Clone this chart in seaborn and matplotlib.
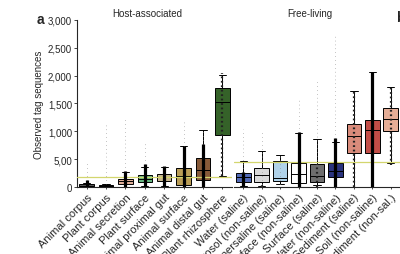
import pandas as pd
import matplotlib
matplotlib.use("Agg")
import matplotlib.pyplot as plt
import seaborn as sns

sns.set_style("ticks")
plt.rcParams["font.family"] = ["Liberation Sans", "DejaVu Sans"]

# =====================================
# Data
# =====================================

host_labels = ["Animal corpus", "Plant corpus", "Animal secretion", "Plant surface",
               "Animal proximal gut", "Animal surface", "Animal distal gut",
               "Plant rhizosphere"]
free_labels = ["Water (saline)", "Aerosol (non-saline)", "Hypersaline (saline)",
               "Surface (non-saline)", "Surface (saline)", "Water (non-saline)",
               "Sediment (saline)", "Soil (non-saline)", "Sediment (non-sal.)"]

# five-number summaries: lower whisker, q1, median, q3, upper whisker
host_wlo = [0, 0, 0, 20, 10, 0, 0, 200]
host_q1 = [10, 5, 55, 90, 110, 35, 125, 930]
host_med = [25, 15, 100, 150, 185, 200, 300, 1530]
host_q3 = [50, 30, 145, 215, 235, 340, 520, 1780]
host_whi = [70, 45, 270, 360, 360, 740, 1020, 2010]

free_wlo = [10, 10, 50, 0, 40, 0, 0, 0, 430]
free_q1 = [90, 90, 110, 70, 90, 180, 610, 610, 1000]
free_med = [180, 215, 160, 230, 200, 290, 920, 1020, 1220]
free_q3 = [250, 340, 465, 430, 410, 430, 1130, 1200, 1420]
free_whi = [470, 650, 570, 970, 860, 810, 1730, 2060, 1790]

# extent of the individual sample points
host_pts_lo = [0, 0, 0, 0, 0, 0, 0, 200]
host_pts_dense = [130, 60, 280, 420, 380, 740, 780, 2050]
host_pts_max = [470, 1130, 1260, 790, 380, 1180, 1030, 2050]

free_pts_lo = [0, 0, 50, 0, 0, 0, 0, 0, 400]
free_pts_dense = [260, 60, 50, 980, 420, 880, 1730, 2070, 1800]
free_pts_max = [1040, 1010, 570, 1600, 1900, 2750, 1730, 2070, 1800]

host_mean = 180
free_mean = 450

yticks = [0, 500, 1000, 1500, 2000, 2500, 3000]
ytick_labels = ["0", "5,00", "1,000", "1,500", "2,000", "2,500", "3,000"]

# =====================================
# Styles
# =====================================

host_colors = ["#555555", "#555555", "#eba98c", "#58c27a", "#d2bb84",
               "#c9a446", "#94582c", "#2f6b1f"]
free_colors = ["#4262c8", "#d9d9d9", "#a6d4f2", "#ffffff", "#6e6e6e",
               "#1c2a8c", "#e8806c", "#d63a32", "#f2a88a"]
host_density = ["dense", "dense", "dense", "dense", "dense", "dense", "dense", "medium"]
free_density = ["dense", "medium", "medium", "dense", "medium", "dense",
                "medium", "dense", "medium"]

mean_color = "#d3d66e"


def summary_frame(labels, wlo, q1, med, q3, whi):
    rows = []
    for i, lab in enumerate(labels):
        for v in (wlo[i], q1[i], med[i], q3[i], whi[i]):
            rows.append({"category": lab, "value": v})
    return pd.DataFrame(rows)


def draw_panel(ax, labels, df, colors, width, lo, dense, top, density, mean):
    sns.boxplot(
        data=df, x="category", y="value", hue="category", order=labels,
        hue_order=labels, palette=dict(zip(labels, colors)), legend=False,
        whis=(0, 100), width=width, linecolor="black", linewidth=0.7,
        fliersize=0, ax=ax
    )
    ax.axhline(mean, color=mean_color, lw=0.9, zorder=3)
    for i in range(len(labels)):
        # sparse upper points
        if top[i] > dense[i]:
            ax.vlines(i, dense[i], top[i], color="#8a8a8a", lw=0.7,
                      linestyles=(0, (0.5, 3.5)), zorder=4)
        if density[i] == "dense":
            ax.vlines(i, lo[i], dense[i], color="black", lw=2.3, zorder=4)
        else:
            ax.vlines(i, lo[i], dense[i], color="#222222", lw=1.6,
                      linestyles=(0, (0.8, 1.2)), zorder=4)
    ax.set_xlim(-0.5, len(labels) - 0.5)
    ax.set_ylim(0, 3000)
    ax.set_xlabel("")
    ax.set_ylabel("")
    ax.set_xticks(range(len(labels)))
    ax.set_xticklabels(labels, rotation=45, ha="right", rotation_mode="anchor",
                       fontsize=8)
    ax.tick_params(axis="x", length=1.5, width=0.6, pad=2)
    for s in ["top", "right"]:
        ax.spines[s].set_visible(False)
    ax.spines["bottom"].set_linewidth(0.8)


# =====================================
# Figure
# =====================================

fig = plt.figure(figsize=(4, 2.55), dpi=100)
ax1 = fig.add_axes([0.1925, 0.263, 0.3875, 0.655])
ax2 = fig.add_axes([0.585, 0.263, 0.415, 0.655])

host_df = summary_frame(host_labels, host_wlo, host_q1, host_med, host_q3, host_whi)
free_df = summary_frame(free_labels, free_wlo, free_q1, free_med, free_q3, free_whi)

draw_panel(ax1, host_labels, host_df, host_colors, 0.75,
           host_pts_lo, host_pts_dense, host_pts_max, host_density, host_mean)
draw_panel(ax2, free_labels, free_df, free_colors, 0.8,
           free_pts_lo, free_pts_dense, free_pts_max, free_density, free_mean)

ax1.set_yticks(yticks)
ax1.set_yticklabels(ytick_labels, fontsize=7)
ax1.tick_params(axis="y", length=2, width=0.6, pad=1.5)
ax1.spines["left"].set_linewidth(0.8)
ax1.set_ylabel("Observed tag sequences", fontsize=7, labelpad=3)

ax2.spines["left"].set_visible(False)
ax2.set_yticks([])

fig.text(147 / 400, 0.945, "Host-associated", ha="center", va="center", fontsize=7)
fig.text(310 / 400, 0.945, "Free-living", ha="center", va="center", fontsize=7)
fig.text(0.1, 0.92, "a", ha="center", va="center", fontsize=10, weight="bold")
fig.text(0.99, 0.93, "b", ha="left", va="center", fontsize=10, weight="bold")

plt.savefig("out.png", dpi=100)
plt.close()
